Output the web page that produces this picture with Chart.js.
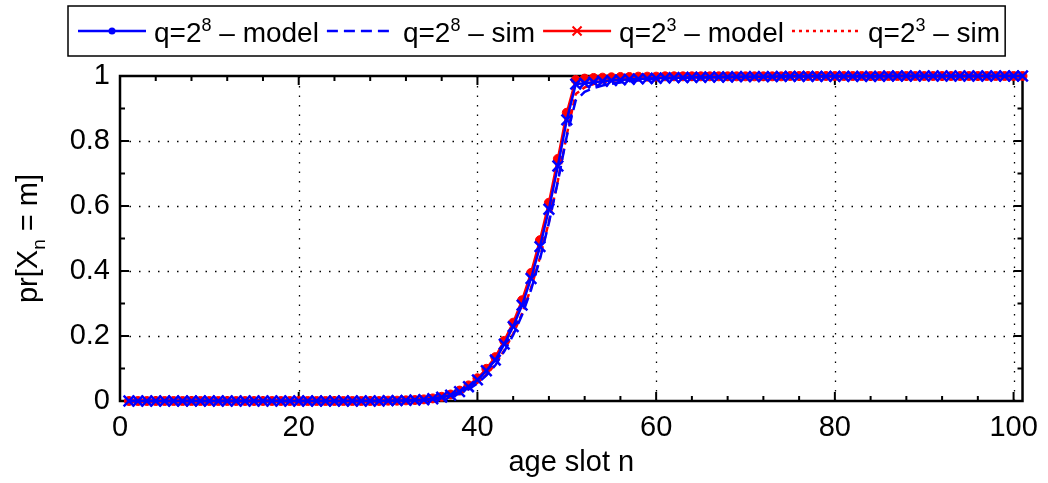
<!DOCTYPE html>
<html>
<head>
<meta charset="utf-8">
<script src="https://cdn.jsdelivr.net/npm/chart.js@4/dist/chart.umd.min.js"></script>
<style>
html, body { margin: 0; padding: 0; background: #fff; }
canvas { display: block; }
</style>
</head>
<body>
<canvas id="grafico" width="1048" height="483"></canvas>
<script>
// age slot n
const slots = [
    1, 2, 3, 4, 5, 6, 7, 8, 9, 10,
    11, 12, 13, 14, 15, 16, 17, 18, 19, 20,
    21, 22, 23, 24, 25, 26, 27, 28, 29, 30,
    31, 32, 33, 34, 35, 36, 37, 38, 39, 40,
    41, 42, 43, 44, 45, 46, 47, 48, 49, 50,
    51, 52, 53, 54, 55, 56, 57, 58, 59, 60,
    61, 62, 63, 64, 65, 66, 67, 68, 69, 70,
    71, 72, 73, 74, 75, 76, 77, 78, 79, 80,
    81, 82, 83, 84, 85, 86, 87, 88, 89, 90,
    91, 92, 93, 94, 95, 96, 97, 98, 99, 100,
    101
];

// q=2^8 - model
const model256 = [
    0, 0, 0, 0, 0, 0, 0, 0, 0, 0,
    0, 0, 0, 0, 0, 0, 0, 0, 0, 0,
    0, 0, 0, 0, 0, 0, 0, 0, 0, 0.001,
    0.001, 0.002, 0.003, 0.004, 0.007, 0.012, 0.018, 0.029, 0.044, 0.065,
    0.093, 0.126, 0.175, 0.229, 0.295, 0.377, 0.475, 0.59, 0.723, 0.865,
    0.975, 0.978, 0.981, 0.984, 0.986, 0.988, 0.99, 0.991, 0.992, 0.993,
    0.994, 0.995, 0.995, 0.996, 0.996, 0.997, 0.997, 0.997, 0.998, 0.998,
    0.998, 0.998, 0.998, 0.999, 0.999, 0.999, 0.999, 0.999, 0.999, 0.999,
    0.999, 0.999, 0.999, 0.999, 0.999, 1, 1, 1, 1, 1,
    1, 1, 1, 1, 1, 1, 1, 1, 1, 1,
    1
];

// q=2^8 - sim
const sim256 = [
    0, 0, 0, 0, 0, 0, 0, 0, 0, 0,
    0, 0, 0, 0, 0, 0, 0, 0, 0, 0,
    0, 0, 0, 0, 0, 0, 0, 0, 0, 0,
    0.001, 0.001, 0.002, 0.003, 0.005, 0.009, 0.014, 0.023, 0.036, 0.054,
    0.079, 0.11, 0.153, 0.203, 0.265, 0.342, 0.437, 0.548, 0.675, 0.815,
    0.925, 0.951, 0.963, 0.971, 0.976, 0.98, 0.984, 0.987, 0.989, 0.991,
    0.992, 0.993, 0.994, 0.995, 0.995, 0.996, 0.996, 0.997, 0.997, 0.997,
    0.998, 0.998, 0.998, 0.998, 0.999, 0.999, 0.999, 0.999, 0.999, 0.999,
    0.999, 0.999, 0.999, 0.999, 0.999, 1, 1, 1, 1, 1,
    1, 1, 1, 1, 1, 1, 1, 1, 1, 1,
    1
];

// q=2^3 - model
const model8 = [
    0, 0, 0, 0, 0, 0, 0, 0, 0, 0,
    0, 0, 0, 0, 0, 0, 0, 0, 0, 0,
    0, 0, 0, 0, 0, 0, 0, 0, 0, 0.001,
    0.001, 0.002, 0.003, 0.005, 0.008, 0.013, 0.02, 0.032, 0.048, 0.07,
    0.099, 0.135, 0.185, 0.241, 0.31, 0.394, 0.495, 0.61, 0.745, 0.887,
    0.988, 0.992, 0.994, 0.995, 0.996, 0.997, 0.997, 0.998, 0.998, 0.998,
    0.999, 0.999, 0.999, 0.999, 0.999, 0.999, 0.999, 0.999, 0.999, 0.999,
    0.999, 0.999, 0.999, 0.999, 1, 1, 1, 1, 1, 1,
    1, 1, 1, 1, 1, 1, 1, 1, 1, 1,
    1, 1, 1, 1, 1, 1, 1, 1, 1, 1,
    1
];

// q=2^3 - sim
const sim8 = [
    0, 0, 0, 0, 0, 0, 0, 0, 0, 0,
    0, 0, 0, 0, 0, 0, 0, 0, 0, 0,
    0, 0, 0, 0, 0, 0, 0, 0, 0, 0,
    0.001, 0.001, 0.002, 0.003, 0.005, 0.009, 0.015, 0.024, 0.037, 0.056,
    0.081, 0.113, 0.156, 0.207, 0.27, 0.348, 0.442, 0.552, 0.678, 0.82,
    0.945, 0.965, 0.975, 0.981, 0.985, 0.988, 0.99, 0.992, 0.993, 0.994,
    0.995, 0.996, 0.996, 0.997, 0.997, 0.998, 0.998, 0.998, 0.999, 0.999,
    0.999, 0.999, 0.999, 0.999, 1, 1, 1, 1, 1, 1,
    1, 1, 1, 1, 1, 1, 1, 1, 1, 1,
    1, 1, 1, 1, 1, 1, 1, 1, 1, 1,
    1
];

const xTicks = [0, 20, 40, 60, 80, 100];
const xMinor = [4, 8, 12, 16, 24, 28, 32, 36, 44, 48, 52, 56, 64, 68, 72, 76, 84, 88, 92, 96];
const yTicks = [0, 0.2, 0.4, 0.6, 0.8, 1];
const yMinor = [0.1, 0.3, 0.5, 0.7, 0.9];

// legend entries: base, exponent, suffix
const legendItems = [
    { base: 'q=2', exp: '8', rest: ' \u2013 model' },
    { base: 'q=2', exp: '8', rest: ' \u2013 sim' },
    { base: 'q=2', exp: '3', rest: ' \u2013 model' },
    { base: 'q=2', exp: '3', rest: ' \u2013 sim' }
];

const FONT = '"Liberation Sans", Arial, Helvetica, sans-serif';
const BLU = '#0000ff';
const ROSSO = '#ff0000';

const punti = arr => slots.map((n, i) => ({ x: n, y: arr[i] }));

// disegna assi stile matlab (box, tacche interne, griglia puntinata) + legenda + titoli
const assiMatlab = {
    id: 'assiMatlab',
    beforeDatasetsDraw(chart) {
        const { ctx, chartArea: a, scales: { x, y } } = chart;
        ctx.save();
        ctx.strokeStyle = '#000';

        // griglia
        ctx.lineWidth = 1.3;
        ctx.setLineDash([1.5, 8]);
        xTicks.forEach(v => {
            if (v === 0) return;
            const px = Math.round(x.getPixelForValue(v)) + 0.5;
            ctx.beginPath(); ctx.moveTo(px, a.bottom); ctx.lineTo(px, a.top); ctx.stroke();
        });
        yTicks.forEach(v => {
            if (v === 0 || v === 1) return;
            const py = Math.round(y.getPixelForValue(v)) + 0.5;
            ctx.beginPath(); ctx.moveTo(a.left, py); ctx.lineTo(a.right, py); ctx.stroke();
        });
        ctx.setLineDash([]);

        // tacche
        ctx.lineWidth = 2;
        const tacca = (v, len, asse) => {
            ctx.beginPath();
            if (asse === 'x') {
                const px = x.getPixelForValue(v);
                ctx.moveTo(px, a.bottom); ctx.lineTo(px, a.bottom - len);
                ctx.moveTo(px, a.top); ctx.lineTo(px, a.top + len);
            } else {
                const py = y.getPixelForValue(v);
                ctx.moveTo(a.left, py); ctx.lineTo(a.left + len, py);
                ctx.moveTo(a.right, py); ctx.lineTo(a.right - len, py);
            }
            ctx.stroke();
        };
        xTicks.forEach(v => tacca(v, 9, 'x'));
        xMinor.forEach(v => tacca(v, 5, 'x'));
        yTicks.forEach(v => tacca(v, 9, 'y'));
        yMinor.forEach(v => tacca(v, 5, 'y'));

        // box
        ctx.lineWidth = 2.5;
        ctx.strokeRect(a.left, a.top, a.right - a.left, a.bottom - a.top);
        ctx.restore();
    },
    afterDraw(chart) {
        const { ctx, chartArea: a } = chart;
        ctx.save();
        ctx.fillStyle = '#000';

        // titolo asse x
        ctx.font = '29px ' + FONT;
        ctx.textAlign = 'center';
        ctx.textBaseline = 'alphabetic';
        ctx.fillText('age slot n', (a.left + a.right) / 2, 471);

        // titolo asse y con pedice
        ctx.save();
        ctx.translate(37, (a.top + a.bottom) / 2);
        ctx.rotate(-Math.PI / 2);
        ctx.textAlign = 'left';
        const p1 = 'pr[X', p2 = 'n', p3 = ' = m]';
        ctx.font = '29px ' + FONT;
        const w1 = ctx.measureText(p1).width, w3 = ctx.measureText(p3).width;
        ctx.font = '19px ' + FONT;
        const w2 = ctx.measureText(p2).width;
        let cx = -(w1 + w2 + w3) / 2;
        ctx.font = '29px ' + FONT;
        ctx.fillText(p1, cx, 0); cx += w1;
        ctx.font = '19px ' + FONT;
        ctx.fillText(p2, cx, 8); cx += w2;
        ctx.font = '29px ' + FONT;
        ctx.fillText(p3, cx, 0);
        ctx.restore();

        // legenda
        const boxL = 68, boxT = 6, boxH = 50, sampleW = 68, base = 42, mid = 31;
        let cur = boxL + 10;
        const stili = [
            { color: BLU, dash: [], marker: 'dot' },
            { color: BLU, dash: [11, 6], marker: null },
            { color: ROSSO, dash: [], marker: 'x' },
            { color: ROSSO, dash: [3, 4], marker: null }
        ];
        const pos = [];
        legendItems.forEach((it, i) => {
            ctx.font = '28px ' + FONT;
            const wb = ctx.measureText(it.base).width, wr = ctx.measureText(it.rest).width;
            ctx.font = '18px ' + FONT;
            const we = ctx.measureText(it.exp).width;
            pos.push({ x: cur, wb, we, wr });
            cur += sampleW + 8 + wb + we + wr + (i < 3 ? 8 : 5);
        });
        ctx.fillStyle = '#fff';
        ctx.fillRect(boxL, boxT, cur - boxL, boxH);
        ctx.strokeStyle = '#000';
        ctx.lineWidth = 1.5;
        ctx.strokeRect(boxL, boxT, cur - boxL, boxH);

        legendItems.forEach((it, i) => {
            const s = stili[i], p = pos[i];
            ctx.strokeStyle = s.color;
            ctx.fillStyle = s.color;
            ctx.lineWidth = 2.5;
            ctx.setLineDash(s.dash);
            ctx.beginPath(); ctx.moveTo(p.x, mid); ctx.lineTo(p.x + sampleW, mid); ctx.stroke();
            ctx.setLineDash([]);
            const cxm = p.x + sampleW / 2;
            if (s.marker === 'dot') {
                ctx.beginPath(); ctx.arc(cxm, mid, 3.5, 0, Math.PI * 2); ctx.fill();
            } else if (s.marker === 'x') {
                ctx.lineWidth = 2;
                ctx.beginPath();
                ctx.moveTo(cxm - 4.5, mid - 4.5); ctx.lineTo(cxm + 4.5, mid + 4.5);
                ctx.moveTo(cxm + 4.5, mid - 4.5); ctx.lineTo(cxm - 4.5, mid + 4.5);
                ctx.stroke();
            }
            ctx.fillStyle = '#000';
            ctx.textAlign = 'left';
            let tx = p.x + sampleW + 8;
            ctx.font = '28px ' + FONT;
            ctx.fillText(it.base, tx, base); tx += p.wb;
            ctx.font = '18px ' + FONT;
            ctx.fillText(it.exp, tx, base - 11); tx += p.we;
            ctx.font = '28px ' + FONT;
            ctx.fillText(it.rest, tx, base);
        });
        ctx.restore();
    }
};

new Chart(document.getElementById('grafico'), {
    type: 'line',
    data: {
        datasets: [{
            label: 'q=2^8 - model',
            data: punti(model256),
            borderColor: BLU,
            borderWidth: 2.5,
            pointStyle: 'crossRot',
            pointRadius: 7.5,
            pointBorderWidth: 2.5,
            pointBorderColor: BLU,
            pointBackgroundColor: BLU,
            clip: 14
        }, {
            label: 'q=2^8 - sim',
            data: punti(sim256),
            borderColor: BLU,
            borderWidth: 2.5,
            borderDash: [11, 6],
            pointRadius: 0,
            clip: 14
        }, {
            label: 'q=2^3 - model',
            data: punti(model8),
            borderColor: ROSSO,
            borderWidth: 2.5,
            pointStyle: 'circle',
            pointRadius: 4.5,
            pointBorderWidth: 1,
            pointBorderColor: ROSSO,
            pointBackgroundColor: ROSSO,
            clip: 14
        }, {
            label: 'q=2^3 - sim',
            data: punti(sim8),
            borderColor: ROSSO,
            borderWidth: 2.5,
            borderDash: [6, 4],
            pointRadius: 0,
            clip: 14
        }]
    },
    options: {
        responsive: false,
        animation: false,
        devicePixelRatio: 1,
        layout: { padding: { top: 76, right: 23, left: 0, bottom: 0 } },
        plugins: {
            legend: { display: false },
            tooltip: { enabled: false }
        },
        scales: {
            x: {
                type: 'linear',
                min: 0,
                max: 101,
                afterFit: s => { s.height = 82; },
                grid: { display: false, drawTicks: false },
                border: { display: false },
                ticks: {
                    stepSize: 20,
                    includeBounds: false,
                    autoSkip: false,
                    maxRotation: 0,
                    padding: 10,
                    color: '#000',
                    font: { family: FONT, size: 29 }
                }
            },
            y: {
                min: 0,
                max: 1,
                afterFit: s => { s.width = 120; },
                grid: { display: false, drawTicks: false },
                border: { display: false },
                ticks: {
                    stepSize: 0.2,
                    padding: 10,
                    color: '#000',
                    font: { family: FONT, size: 29 },
                    callback: v => String(+v.toFixed(1))
                }
            }
        }
    },
    plugins: [assiMatlab]
});
</script>
</body>
</html>
